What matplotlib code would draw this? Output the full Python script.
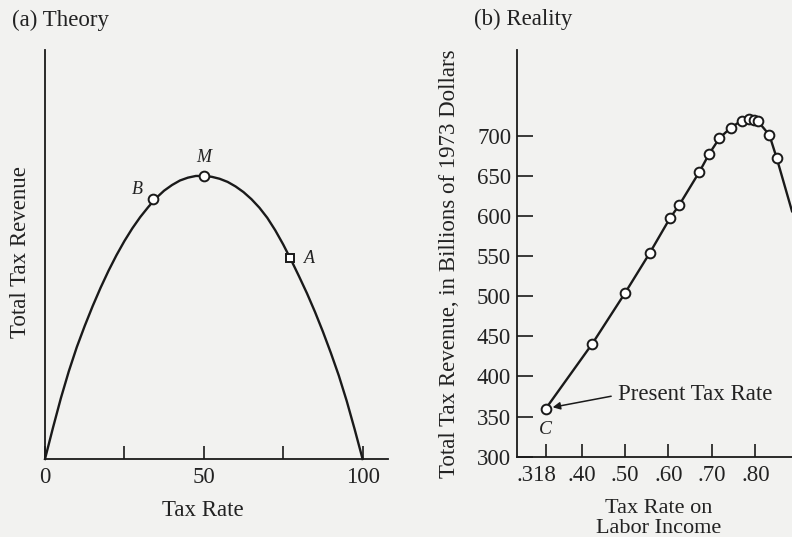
import matplotlib
matplotlib.use("Agg")
import matplotlib.pyplot as plt
import matplotlib.transforms as mtransforms

# ---------------- data ----------------
# (a) Theory: tax rate (%) vs total tax revenue (index, peak = 100)
theory_rate = [0, 2.5, 5, 7.5, 10, 12.5, 15, 17.5, 20, 22.5, 25, 27.5, 30, 32.5, 35,
               37.5, 40, 42.5, 45, 47.5, 50, 52.5, 55, 57.5, 60, 62.5, 65, 67.5, 70,
               72.5, 75, 77.5, 80, 82.5, 85, 87.5, 90, 92.5, 95, 97.5, 100]
theory_revenue = [0, 11, 21.5, 31, 39.5, 47, 54, 60.5, 66.5, 72, 77, 81.5, 85.5, 89,
                  92.2, 94.8, 96.8, 98.4, 99.4, 100, 100, 99.7, 99, 97.9, 96.3, 94.3,
                  91.8, 88.8, 85.2, 80.8, 75.8, 70.3, 64.5, 58.5, 52, 45, 37.5, 29.5,
                  20.5, 10.5, 0]
theory_point_names = ["B", "M", "A"]
theory_point_rate = [34, 50, 77]
theory_point_revenue = [91.8, 100, 71]
theory_xticks = [0, 25, 50, 75, 100]
theory_xticklabels = ["0", "", "50", "", "100"]

# (b) Reality: tax rate on labor income vs revenue (billions of 1973 dollars)
real_rate = [0.318, 0.425, 0.50, 0.557, 0.603, 0.625, 0.671, 0.693, 0.717, 0.743,
             0.768, 0.785, 0.797, 0.806, 0.832, 0.849]
real_revenue = [360, 441, 504, 554, 597, 614, 655, 677, 697, 710, 719, 721, 720, 718,
                701, 672]
# line continues beyond the last marker, off the right edge
real_tail_rate = [0.849, 0.884]
real_tail_revenue = [672, 606]
real_xticks = [0.318, 0.40, 0.50, 0.60, 0.70, 0.80]
real_xticklabels = [".318", ".40", ".50", ".60", ".70", ".80"]
real_yticks = [300, 350, 400, 450, 500, 550, 600, 650, 700]
real_yticklabels = ["300", "350", "400", "450", "500", "550", "600", "650", "700"]

# ---------------- style ----------------
INK = "#1a1a1a"
TXT = "#222222"
BG = "#f2f2f0"
SERIF = ["Liberation Serif", "DejaVu Serif"]
plt.rcParams["font.family"] = SERIF
FS = 16.5

fig = plt.figure(figsize=(7.92, 5.37), dpi=100, facecolor=BG)

ax1 = fig.add_axes([45 / 792, 1 - 459 / 537, 343 / 792, 409 / 537])
ax2 = fig.add_axes([516.7 / 792, 1 - 456.7 / 537, 275.3 / 792, 406.7 / 537])

for ax in (ax1, ax2):
    ax.set_facecolor("none")
    for s in ("top", "right"):
        ax.spines[s].set_visible(False)
    for s in ("left", "bottom"):
        ax.spines[s].set_linewidth(1.3)
        ax.spines[s].set_color(INK)

# ---- (a) Theory ----
ax1.plot(theory_rate, theory_revenue, color=INK, lw=1.7, zorder=2, clip_on=False)
for name, xr, yr in zip(theory_point_names, theory_point_rate, theory_point_revenue):
    mk = "s" if name == "A" else "o"
    ms = 6.0 if name == "A" else 7.0
    ax1.plot([xr], [yr], marker=mk, ms=ms, mfc="white", mec=INK, mew=1.4,
             zorder=3, clip_on=False)
offsets = {"B": (-11, 7), "M": (0, 13), "A": (14, 0)}
for name, xr, yr in zip(theory_point_names, theory_point_rate, theory_point_revenue):
    ax1.annotate(name, (xr, yr), xytext=offsets[name], textcoords="offset points",
                 ha="center", va="center", fontsize=13, style="italic", color=TXT)

ax1.set_xlim(0, 108)
ax1.set_ylim(0, 144.5)
ax1.set_xticks(theory_xticks)
ax1.set_xticklabels(theory_xticklabels)
ax1.set_yticks([])
ax1.tick_params(axis="x", direction="in", length=9.5, width=1.2, color=INK,
                pad=6, labelsize=FS, labelcolor=TXT)
ax1.set_xlabel("Tax Rate", fontsize=FS, color=TXT)
ax1.xaxis.set_label_coords(0.461, -0.10)
ax1.set_ylabel("Total Tax Revenue", fontsize=FS, color=TXT)
ax1.yaxis.set_label_coords(-0.04, 0.505)

# ---- (b) Reality ----
ax2.plot(real_tail_rate, real_tail_revenue, color=INK, lw=1.7, zorder=2)
ax2.plot(real_rate, real_revenue, color=INK, lw=1.7, marker="o", ms=7.0,
         mfc="white", mec=INK, mew=1.4, zorder=3, clip_on=False)
ax2.set_xlim(0.251, 0.884)
ax2.set_ylim(300, 807)
ax2.set_xticks(real_xticks)
ax2.set_xticklabels(real_xticklabels)
ax2.set_yticks(real_yticks)
ax2.set_yticklabels(real_yticklabels)
ax2.tick_params(axis="x", direction="in", length=9.5, width=1.2, color=INK,
                pad=6, labelsize=FS, labelcolor=TXT)
ax2.tick_params(axis="y", direction="in", length=11.5, width=1.2, color=INK,
                pad=4, labelsize=FS, labelcolor=TXT)
# the ".318" label sits a little left of its tick
lab0 = ax2.get_xticklabels()[0]
lab0.set_transform(lab0.get_transform() +
                   mtransforms.ScaledTranslation(-9 / 100, 0, fig.dpi_scale_trans))

ax2.set_xlabel("Tax Rate on\nLabor Income", fontsize=16, color=TXT,
               linespacing=1.05)
ax2.xaxis.set_label_coords(0.517, -0.105)
ax2.set_ylabel("Total Tax Revenue, in Billions of 1973 Dollars", fontsize=FS,
               color=TXT)
ax2.yaxis.set_label_coords(-0.205, 0.474)

ax2.annotate("C", (real_rate[0], real_revenue[0]), xytext=(0, -15),
             textcoords="offset points", ha="center", va="center", fontsize=14,
             style="italic", color=TXT)
ax2.annotate("Present Tax Rate", xy=(real_rate[0], real_revenue[0]),
             xytext=(0.484, 377), textcoords="data", ha="left", va="center",
             fontsize=FS, color=TXT,
             arrowprops=dict(arrowstyle="-|>", color=INK, lw=1.1,
                             mutation_scale=11, shrinkA=3, shrinkB=5,
                             relpos=(0, 0.5)))

fig.text(12 / 792, 1 - 20 / 537, "(a) Theory", fontsize=FS, color=TXT,
         ha="left", va="center")
fig.text(474 / 792, 1 - 19 / 537, "(b) Reality", fontsize=FS, color=TXT,
         ha="left", va="center")

fig.savefig("out.png", dpi=100, facecolor=BG)
